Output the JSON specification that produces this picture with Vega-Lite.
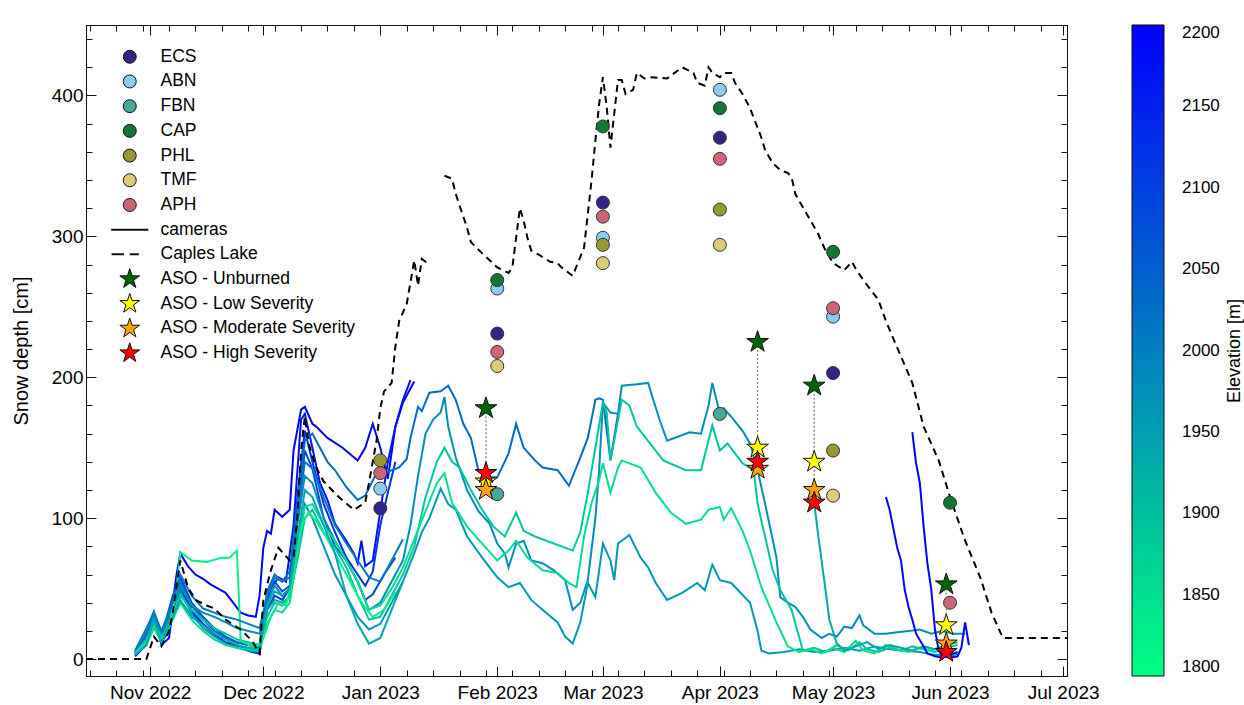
{
"$schema": "https://vega.github.io/schema/vega-lite/v6.json",
"autosize": {"type": "none"},
"width": 981, "height": 651,
"padding": {"left": 86, "top": 25, "right": 177, "bottom": 29},
"config": {
 "font": "Liberation Sans",
 "view": {"stroke": "#111", "strokeWidth": 1},
 "axis": {"domainColor": "#111", "tickColor": "#111", "labelColor": "black", "titleColor": "black", "grid": false, "domainWidth": 1, "tickWidth": 1, "labelFont": "Liberation Sans", "titleFont": "Liberation Sans"},
 "legend": {"labelFont": "Liberation Sans", "titleFont": "Liberation Sans", "labelColor": "black", "titleColor": "black"}
},
"datasets": {
 "cams": [
{"c":"K1","e":2195,"d":"2022-10-28","v":2},{"c":"K1","e":2195,"d":"2022-10-31","v":10},{"c":"K1","e":2195,"d":"2022-11-02","v":28},{"c":"K1","e":2195,"d":"2022-11-04","v":12},{"c":"K1","e":2195,"d":"2022-11-06","v":20},{"c":"K1","e":2195,"d":"2022-11-08","v":60},{"c":"K1","e":2195,"d":"2022-11-09","v":75},{"c":"K1","e":2195,"d":"2022-11-11","v":66},{"c":"K1","e":2195,"d":"2022-11-13","v":60},{"c":"K1","e":2195,"d":"2022-11-15","v":57},{"c":"K1","e":2195,"d":"2022-11-17","v":53},{"c":"K1","e":2195,"d":"2022-11-19","v":50},{"c":"K1","e":2195,"d":"2022-11-21","v":47},{"c":"K1","e":2195,"d":"2022-11-23","v":40},{"c":"K1","e":2195,"d":"2022-11-25","v":33},{"c":"K1","e":2195,"d":"2022-11-27","v":31},{"c":"K1","e":2195,"d":"2022-11-29","v":30},{"c":"K1","e":2195,"d":"2022-11-30","v":45},{"c":"K1","e":2195,"d":"2022-12-01","v":79},{"c":"K1","e":2195,"d":"2022-12-02","v":91},{"c":"K1","e":2195,"d":"2022-12-03","v":89},{"c":"K1","e":2195,"d":"2022-12-04","v":106},{"c":"K1","e":2195,"d":"2022-12-06","v":101},{"c":"K1","e":2195,"d":"2022-12-08","v":106},{"c":"K1","e":2195,"d":"2022-12-09","v":148},{"c":"K1","e":2195,"d":"2022-12-11","v":177},{"c":"K1","e":2195,"d":"2022-12-12","v":179},{"c":"K1","e":2195,"d":"2022-12-14","v":167},{"c":"K1","e":2195,"d":"2022-12-15","v":165},{"c":"K1","e":2195,"d":"2022-12-18","v":157},{"c":"K1","e":2195,"d":"2022-12-22","v":150},{"c":"K1","e":2195,"d":"2022-12-26","v":141},{"c":"K1","e":2195,"d":"2022-12-28","v":150},{"c":"K1","e":2195,"d":"2022-12-30","v":167},{"c":"K1","e":2195,"d":"2023-01-01","v":150},{"c":"K1","e":2195,"d":"2023-01-03","v":128},{"c":"K1","e":2195,"d":"2023-01-05","v":165},{"c":"K1","e":2195,"d":"2023-01-07","v":182},{"c":"K1","e":2195,"d":"2023-01-10","v":197},
{"c":"K2","e":2170,"d":"2022-10-28","v":3},{"c":"K2","e":2170,"d":"2022-10-31","v":12},{"c":"K2","e":2170,"d":"2022-11-02","v":30},{"c":"K2","e":2170,"d":"2022-11-04","v":10},{"c":"K2","e":2170,"d":"2022-11-06","v":15},{"c":"K2","e":2170,"d":"2022-11-08","v":55},{"c":"K2","e":2170,"d":"2022-11-10","v":45},{"c":"K2","e":2170,"d":"2022-11-13","v":30},{"c":"K2","e":2170,"d":"2022-11-16","v":22},{"c":"K2","e":2170,"d":"2022-11-19","v":15},{"c":"K2","e":2170,"d":"2022-11-22","v":10},{"c":"K2","e":2170,"d":"2022-11-25","v":8},{"c":"K2","e":2170,"d":"2022-11-28","v":5},{"c":"K2","e":2170,"d":"2022-11-30","v":4},{"c":"K2","e":2170,"d":"2022-12-01","v":30},{"c":"K2","e":2170,"d":"2022-12-03","v":50},{"c":"K2","e":2170,"d":"2022-12-05","v":58},{"c":"K2","e":2170,"d":"2022-12-07","v":55},{"c":"K2","e":2170,"d":"2022-12-09","v":95},{"c":"K2","e":2170,"d":"2022-12-11","v":170},{"c":"K2","e":2170,"d":"2022-12-12","v":174},{"c":"K2","e":2170,"d":"2022-12-14","v":150},{"c":"K2","e":2170,"d":"2022-12-16","v":125},{"c":"K2","e":2170,"d":"2022-12-18","v":113},{"c":"K2","e":2170,"d":"2022-12-20","v":96},{"c":"K2","e":2170,"d":"2022-12-23","v":84},{"c":"K2","e":2170,"d":"2022-12-25","v":75},{"c":"K2","e":2170,"d":"2022-12-26","v":68},{"c":"K2","e":2170,"d":"2022-12-27","v":84},{"c":"K2","e":2170,"d":"2022-12-28","v":66},{"c":"K2","e":2170,"d":"2022-12-30","v":70},{"c":"K2","e":2170,"d":"2023-01-01","v":105},{"c":"K2","e":2170,"d":"2023-01-03","v":140},{"c":"K2","e":2170,"d":"2023-01-05","v":165},{"c":"K2","e":2170,"d":"2023-01-07","v":184},{"c":"K2","e":2170,"d":"2023-01-09","v":198},
{"c":"K3","e":2120,"d":"2022-10-28","v":4},{"c":"K3","e":2120,"d":"2022-10-31","v":15},{"c":"K3","e":2120,"d":"2022-11-02","v":25},{"c":"K3","e":2120,"d":"2022-11-04","v":14},{"c":"K3","e":2120,"d":"2022-11-07","v":40},{"c":"K3","e":2120,"d":"2022-11-09","v":50},{"c":"K3","e":2120,"d":"2022-11-12","v":35},{"c":"K3","e":2120,"d":"2022-11-15","v":25},{"c":"K3","e":2120,"d":"2022-11-18","v":18},{"c":"K3","e":2120,"d":"2022-11-21","v":12},{"c":"K3","e":2120,"d":"2022-11-24","v":10},{"c":"K3","e":2120,"d":"2022-11-27","v":6},{"c":"K3","e":2120,"d":"2022-11-30","v":4},{"c":"K3","e":2120,"d":"2022-12-02","v":35},{"c":"K3","e":2120,"d":"2022-12-04","v":45},{"c":"K3","e":2120,"d":"2022-12-06","v":42},{"c":"K3","e":2120,"d":"2022-12-08","v":50},{"c":"K3","e":2120,"d":"2022-12-10","v":115},{"c":"K3","e":2120,"d":"2022-12-12","v":162},{"c":"K3","e":2120,"d":"2022-12-14","v":140},{"c":"K3","e":2120,"d":"2022-12-17","v":110},{"c":"K3","e":2120,"d":"2022-12-20","v":90},{"c":"K3","e":2120,"d":"2022-12-23","v":72},{"c":"K3","e":2120,"d":"2022-12-26","v":60},{"c":"K3","e":2120,"d":"2022-12-28","v":52},{"c":"K3","e":2120,"d":"2022-12-30","v":62},{"c":"K3","e":2120,"d":"2023-01-01","v":95},{"c":"K3","e":2120,"d":"2023-01-03","v":118},{"c":"K3","e":2120,"d":"2023-01-05","v":140},
{"c":"K4","e":2080,"d":"2022-10-28","v":5},{"c":"K4","e":2080,"d":"2022-10-31","v":18},{"c":"K4","e":2080,"d":"2022-11-02","v":32},{"c":"K4","e":2080,"d":"2022-11-04","v":16},{"c":"K4","e":2080,"d":"2022-11-07","v":45},{"c":"K4","e":2080,"d":"2022-11-09","v":58},{"c":"K4","e":2080,"d":"2022-11-12","v":40},{"c":"K4","e":2080,"d":"2022-11-15","v":30},{"c":"K4","e":2080,"d":"2022-11-18","v":22},{"c":"K4","e":2080,"d":"2022-11-21","v":16},{"c":"K4","e":2080,"d":"2022-11-24","v":12},{"c":"K4","e":2080,"d":"2022-11-27","v":10},{"c":"K4","e":2080,"d":"2022-11-30","v":8},{"c":"K4","e":2080,"d":"2022-12-02","v":45},{"c":"K4","e":2080,"d":"2022-12-04","v":55},{"c":"K4","e":2080,"d":"2022-12-06","v":48},{"c":"K4","e":2080,"d":"2022-12-08","v":52},{"c":"K4","e":2080,"d":"2022-12-10","v":100},{"c":"K4","e":2080,"d":"2022-12-12","v":148},{"c":"K4","e":2080,"d":"2022-12-14","v":135},{"c":"K4","e":2080,"d":"2022-12-17","v":100},{"c":"K4","e":2080,"d":"2022-12-20","v":80},{"c":"K4","e":2080,"d":"2022-12-23","v":70},{"c":"K4","e":2080,"d":"2022-12-26","v":55},{"c":"K4","e":2080,"d":"2022-12-28","v":42},{"c":"K4","e":2080,"d":"2022-12-30","v":46},{"c":"K4","e":2080,"d":"2023-01-02","v":60},{"c":"K4","e":2080,"d":"2023-01-05","v":72},
{"c":"K5","e":2030,"d":"2022-10-28","v":4},{"c":"K5","e":2030,"d":"2022-10-31","v":14},{"c":"K5","e":2030,"d":"2022-11-02","v":28},{"c":"K5","e":2030,"d":"2022-11-04","v":15},{"c":"K5","e":2030,"d":"2022-11-07","v":35},{"c":"K5","e":2030,"d":"2022-11-09","v":55},{"c":"K5","e":2030,"d":"2022-11-12","v":38},{"c":"K5","e":2030,"d":"2022-11-15","v":28},{"c":"K5","e":2030,"d":"2022-11-18","v":20},{"c":"K5","e":2030,"d":"2022-11-21","v":15},{"c":"K5","e":2030,"d":"2022-11-24","v":12},{"c":"K5","e":2030,"d":"2022-11-27","v":10},{"c":"K5","e":2030,"d":"2022-11-30","v":9},{"c":"K5","e":2030,"d":"2022-12-02","v":48},{"c":"K5","e":2030,"d":"2022-12-04","v":60},{"c":"K5","e":2030,"d":"2022-12-06","v":55},{"c":"K5","e":2030,"d":"2022-12-08","v":62},{"c":"K5","e":2030,"d":"2022-12-10","v":110},{"c":"K5","e":2030,"d":"2022-12-12","v":155},{"c":"K5","e":2030,"d":"2022-12-14","v":160},{"c":"K5","e":2030,"d":"2022-12-16","v":150},{"c":"K5","e":2030,"d":"2022-12-18","v":140},{"c":"K5","e":2030,"d":"2022-12-20","v":134},{"c":"K5","e":2030,"d":"2022-12-23","v":122},{"c":"K5","e":2030,"d":"2022-12-26","v":113},{"c":"K5","e":2030,"d":"2022-12-28","v":116},{"c":"K5","e":2030,"d":"2022-12-31","v":132},{"c":"K5","e":2030,"d":"2023-01-03","v":133},{"c":"K5","e":2030,"d":"2023-01-06","v":136},{"c":"K5","e":2030,"d":"2023-01-08","v":142},{"c":"K5","e":2030,"d":"2023-01-09","v":157},{"c":"K5","e":2030,"d":"2023-01-11","v":179},{"c":"K5","e":2030,"d":"2023-01-12","v":176},{"c":"K5","e":2030,"d":"2023-01-14","v":189},{"c":"K5","e":2030,"d":"2023-01-17","v":190},{"c":"K5","e":2030,"d":"2023-01-19","v":194},{"c":"K5","e":2030,"d":"2023-01-21","v":184},{"c":"K5","e":2030,"d":"2023-01-23","v":167},{"c":"K5","e":2030,"d":"2023-01-25","v":157},{"c":"K5","e":2030,"d":"2023-01-27","v":134},{"c":"K5","e":2030,"d":"2023-01-29","v":129},{"c":"K5","e":2030,"d":"2023-02-01","v":129},{"c":"K5","e":2030,"d":"2023-02-04","v":146},{"c":"K5","e":2030,"d":"2023-02-06","v":167},{"c":"K5","e":2030,"d":"2023-02-08","v":150},{"c":"K5","e":2030,"d":"2023-02-11","v":141},{"c":"K5","e":2030,"d":"2023-02-13","v":136},{"c":"K5","e":2030,"d":"2023-02-17","v":134},{"c":"K5","e":2030,"d":"2023-02-20","v":123},{"c":"K5","e":2030,"d":"2023-02-23","v":143},{"c":"K5","e":2030,"d":"2023-02-25","v":157},{"c":"K5","e":2030,"d":"2023-02-27","v":184},{"c":"K5","e":2030,"d":"2023-02-28","v":185},{"c":"K5","e":2030,"d":"2023-03-01","v":184},{"c":"K5","e":2030,"d":"2023-03-03","v":141},{"c":"K5","e":2030,"d":"2023-03-05","v":174},
{"c":"K6","e":1975,"d":"2022-10-28","v":5},{"c":"K6","e":1975,"d":"2022-10-31","v":20},{"c":"K6","e":1975,"d":"2022-11-02","v":34},{"c":"K6","e":1975,"d":"2022-11-04","v":18},{"c":"K6","e":1975,"d":"2022-11-07","v":40},{"c":"K6","e":1975,"d":"2022-11-09","v":52},{"c":"K6","e":1975,"d":"2022-11-12","v":38},{"c":"K6","e":1975,"d":"2022-11-15","v":33},{"c":"K6","e":1975,"d":"2022-11-18","v":30},{"c":"K6","e":1975,"d":"2022-11-21","v":26},{"c":"K6","e":1975,"d":"2022-11-24","v":22},{"c":"K6","e":1975,"d":"2022-11-27","v":20},{"c":"K6","e":1975,"d":"2022-11-30","v":18},{"c":"K6","e":1975,"d":"2022-12-02","v":40},{"c":"K6","e":1975,"d":"2022-12-04","v":52},{"c":"K6","e":1975,"d":"2022-12-06","v":45},{"c":"K6","e":1975,"d":"2022-12-08","v":50},{"c":"K6","e":1975,"d":"2022-12-10","v":95},{"c":"K6","e":1975,"d":"2022-12-12","v":130},{"c":"K6","e":1975,"d":"2022-12-14","v":125},{"c":"K6","e":1975,"d":"2022-12-17","v":100},{"c":"K6","e":1975,"d":"2022-12-20","v":84},{"c":"K6","e":1975,"d":"2022-12-23","v":70},{"c":"K6","e":1975,"d":"2022-12-26","v":55},{"c":"K6","e":1975,"d":"2022-12-29","v":35},{"c":"K6","e":1975,"d":"2023-01-01","v":40},{"c":"K6","e":1975,"d":"2023-01-04","v":55},{"c":"K6","e":1975,"d":"2023-01-07","v":70},{"c":"K6","e":1975,"d":"2023-01-09","v":95},{"c":"K6","e":1975,"d":"2023-01-11","v":130},{"c":"K6","e":1975,"d":"2023-01-13","v":160},{"c":"K6","e":1975,"d":"2023-01-15","v":170},{"c":"K6","e":1975,"d":"2023-01-17","v":175},{"c":"K6","e":1975,"d":"2023-01-18","v":186},{"c":"K6","e":1975,"d":"2023-01-19","v":165},{"c":"K6","e":1975,"d":"2023-01-21","v":143},{"c":"K6","e":1975,"d":"2023-01-24","v":120},{"c":"K6","e":1975,"d":"2023-01-27","v":105},{"c":"K6","e":1975,"d":"2023-01-30","v":96},{"c":"K6","e":1975,"d":"2023-02-01","v":82},{"c":"K6","e":1975,"d":"2023-02-03","v":75},{"c":"K6","e":1975,"d":"2023-02-04","v":65},{"c":"K6","e":1975,"d":"2023-02-06","v":82},{"c":"K6","e":1975,"d":"2023-02-08","v":84},{"c":"K6","e":1975,"d":"2023-02-10","v":70},{"c":"K6","e":1975,"d":"2023-02-13","v":68},{"c":"K6","e":1975,"d":"2023-02-16","v":63},{"c":"K6","e":1975,"d":"2023-02-19","v":56},{"c":"K6","e":1975,"d":"2023-02-21","v":35},{"c":"K6","e":1975,"d":"2023-02-23","v":40},{"c":"K6","e":1975,"d":"2023-02-25","v":56},{"c":"K6","e":1975,"d":"2023-02-27","v":100},{"c":"K6","e":1975,"d":"2023-02-28","v":134},{"c":"K6","e":1975,"d":"2023-03-01","v":182},{"c":"K6","e":1975,"d":"2023-03-03","v":175},{"c":"K6","e":1975,"d":"2023-03-05","v":174},{"c":"K6","e":1975,"d":"2023-03-06","v":194},{"c":"K6","e":1975,"d":"2023-03-10","v":195},{"c":"K6","e":1975,"d":"2023-03-13","v":196},{"c":"K6","e":1975,"d":"2023-03-14","v":187},{"c":"K6","e":1975,"d":"2023-03-16","v":170},{"c":"K6","e":1975,"d":"2023-03-18","v":155},{"c":"K6","e":1975,"d":"2023-03-21","v":158},{"c":"K6","e":1975,"d":"2023-03-24","v":161},{"c":"K6","e":1975,"d":"2023-03-27","v":160},{"c":"K6","e":1975,"d":"2023-03-29","v":180},{"c":"K6","e":1975,"d":"2023-03-30","v":196},{"c":"K6","e":1975,"d":"2023-04-01","v":174},{"c":"K6","e":1975,"d":"2023-04-02","v":178},{"c":"K6","e":1975,"d":"2023-04-04","v":172},{"c":"K6","e":1975,"d":"2023-04-07","v":162},{"c":"K6","e":1975,"d":"2023-04-09","v":153},{"c":"K6","e":1975,"d":"2023-04-11","v":134},{"c":"K6","e":1975,"d":"2023-04-13","v":110},{"c":"K6","e":1975,"d":"2023-04-16","v":72},{"c":"K6","e":1975,"d":"2023-04-17","v":44},{"c":"K6","e":1975,"d":"2023-04-19","v":40},{"c":"K6","e":1975,"d":"2023-04-21","v":37},{"c":"K6","e":1975,"d":"2023-04-23","v":30},{"c":"K6","e":1975,"d":"2023-04-25","v":21},{"c":"K6","e":1975,"d":"2023-04-28","v":15},{"c":"K6","e":1975,"d":"2023-04-30","v":18},{"c":"K6","e":1975,"d":"2023-05-02","v":16},{"c":"K6","e":1975,"d":"2023-05-04","v":23},{"c":"K6","e":1975,"d":"2023-05-06","v":22},{"c":"K6","e":1975,"d":"2023-05-08","v":31},{"c":"K6","e":1975,"d":"2023-05-09","v":24},{"c":"K6","e":1975,"d":"2023-05-12","v":18},{"c":"K6","e":1975,"d":"2023-05-15","v":18},{"c":"K6","e":1975,"d":"2023-05-18","v":19},{"c":"K6","e":1975,"d":"2023-05-21","v":20},{"c":"K6","e":1975,"d":"2023-05-24","v":21},{"c":"K6","e":1975,"d":"2023-05-27","v":18},{"c":"K6","e":1975,"d":"2023-05-30","v":20},{"c":"K6","e":1975,"d":"2023-06-02","v":18},{"c":"K6","e":1975,"d":"2023-06-05","v":18},
{"c":"K7","e":1960,"d":"2022-10-28","v":3},{"c":"K7","e":1960,"d":"2022-10-31","v":12},{"c":"K7","e":1960,"d":"2022-11-02","v":30},{"c":"K7","e":1960,"d":"2022-11-04","v":14},{"c":"K7","e":1960,"d":"2022-11-07","v":35},{"c":"K7","e":1960,"d":"2022-11-09","v":48},{"c":"K7","e":1960,"d":"2022-11-12","v":32},{"c":"K7","e":1960,"d":"2022-11-15","v":22},{"c":"K7","e":1960,"d":"2022-11-18","v":16},{"c":"K7","e":1960,"d":"2022-11-21","v":11},{"c":"K7","e":1960,"d":"2022-11-24","v":8},{"c":"K7","e":1960,"d":"2022-11-27","v":6},{"c":"K7","e":1960,"d":"2022-11-30","v":5},{"c":"K7","e":1960,"d":"2022-12-02","v":35},{"c":"K7","e":1960,"d":"2022-12-04","v":42},{"c":"K7","e":1960,"d":"2022-12-06","v":40},{"c":"K7","e":1960,"d":"2022-12-08","v":44},{"c":"K7","e":1960,"d":"2022-12-10","v":80},{"c":"K7","e":1960,"d":"2022-12-12","v":110},{"c":"K7","e":1960,"d":"2022-12-14","v":100},{"c":"K7","e":1960,"d":"2022-12-17","v":80},{"c":"K7","e":1960,"d":"2022-12-20","v":60},{"c":"K7","e":1960,"d":"2022-12-23","v":45},{"c":"K7","e":1960,"d":"2022-12-26","v":30},{"c":"K7","e":1960,"d":"2022-12-29","v":21},{"c":"K7","e":1960,"d":"2023-01-01","v":25},{"c":"K7","e":1960,"d":"2023-01-04","v":40},{"c":"K7","e":1960,"d":"2023-01-07","v":55},{"c":"K7","e":1960,"d":"2023-01-10","v":75},{"c":"K7","e":1960,"d":"2023-01-12","v":90},{"c":"K7","e":1960,"d":"2023-01-14","v":100},{"c":"K7","e":1960,"d":"2023-01-17","v":121},{"c":"K7","e":1960,"d":"2023-01-19","v":110},{"c":"K7","e":1960,"d":"2023-01-21","v":106},{"c":"K7","e":1960,"d":"2023-01-24","v":87},{"c":"K7","e":1960,"d":"2023-01-28","v":72},{"c":"K7","e":1960,"d":"2023-02-01","v":58},{"c":"K7","e":1960,"d":"2023-02-04","v":51},{"c":"K7","e":1960,"d":"2023-02-07","v":54},{"c":"K7","e":1960,"d":"2023-02-10","v":42},{"c":"K7","e":1960,"d":"2023-02-13","v":35},{"c":"K7","e":1960,"d":"2023-02-17","v":26},{"c":"K7","e":1960,"d":"2023-02-19","v":16},{"c":"K7","e":1960,"d":"2023-02-21","v":11},{"c":"K7","e":1960,"d":"2023-02-23","v":26},{"c":"K7","e":1960,"d":"2023-02-25","v":54},{"c":"K7","e":1960,"d":"2023-02-27","v":44},{"c":"K7","e":1960,"d":"2023-03-01","v":82},{"c":"K7","e":1960,"d":"2023-03-03","v":70},{"c":"K7","e":1960,"d":"2023-03-04","v":56},{"c":"K7","e":1960,"d":"2023-03-05","v":82},{"c":"K7","e":1960,"d":"2023-03-08","v":88},{"c":"K7","e":1960,"d":"2023-03-11","v":72},{"c":"K7","e":1960,"d":"2023-03-13","v":65},{"c":"K7","e":1960,"d":"2023-03-15","v":54},{"c":"K7","e":1960,"d":"2023-03-18","v":42},{"c":"K7","e":1960,"d":"2023-03-22","v":47},{"c":"K7","e":1960,"d":"2023-03-26","v":54},{"c":"K7","e":1960,"d":"2023-03-28","v":49},{"c":"K7","e":1960,"d":"2023-03-30","v":67},{"c":"K7","e":1960,"d":"2023-04-01","v":56},{"c":"K7","e":1960,"d":"2023-04-04","v":54},{"c":"K7","e":1960,"d":"2023-04-09","v":40},{"c":"K7","e":1960,"d":"2023-04-11","v":20},{"c":"K7","e":1960,"d":"2023-04-12","v":6},{"c":"K7","e":1960,"d":"2023-04-14","v":4},{"c":"K7","e":1960,"d":"2023-04-18","v":5},{"c":"K7","e":1960,"d":"2023-04-22","v":7},{"c":"K7","e":1960,"d":"2023-04-26","v":5},{"c":"K7","e":1960,"d":"2023-04-30","v":6},{"c":"K7","e":1960,"d":"2023-05-04","v":8},{"c":"K7","e":1960,"d":"2023-05-08","v":6},{"c":"K7","e":1960,"d":"2023-05-12","v":9},{"c":"K7","e":1960,"d":"2023-05-16","v":7},{"c":"K7","e":1960,"d":"2023-05-20","v":6},{"c":"K7","e":1960,"d":"2023-05-24","v":5},{"c":"K7","e":1960,"d":"2023-05-28","v":3},{"c":"K7","e":1960,"d":"2023-06-01","v":2},{"c":"K7","e":1960,"d":"2023-06-03","v":4},
{"c":"K8","e":1890,"d":"2022-10-28","v":4},{"c":"K8","e":1890,"d":"2022-10-31","v":14},{"c":"K8","e":1890,"d":"2022-11-02","v":26},{"c":"K8","e":1890,"d":"2022-11-04","v":15},{"c":"K8","e":1890,"d":"2022-11-07","v":30},{"c":"K8","e":1890,"d":"2022-11-09","v":45},{"c":"K8","e":1890,"d":"2022-11-12","v":35},{"c":"K8","e":1890,"d":"2022-11-15","v":28},{"c":"K8","e":1890,"d":"2022-11-18","v":22},{"c":"K8","e":1890,"d":"2022-11-21","v":18},{"c":"K8","e":1890,"d":"2022-11-24","v":14},{"c":"K8","e":1890,"d":"2022-11-27","v":12},{"c":"K8","e":1890,"d":"2022-11-30","v":10},{"c":"K8","e":1890,"d":"2022-12-02","v":30},{"c":"K8","e":1890,"d":"2022-12-04","v":40},{"c":"K8","e":1890,"d":"2022-12-06","v":38},{"c":"K8","e":1890,"d":"2022-12-08","v":45},{"c":"K8","e":1890,"d":"2022-12-10","v":70},{"c":"K8","e":1890,"d":"2022-12-12","v":100},{"c":"K8","e":1890,"d":"2022-12-14","v":106},{"c":"K8","e":1890,"d":"2022-12-17","v":90},{"c":"K8","e":1890,"d":"2022-12-20","v":79},{"c":"K8","e":1890,"d":"2022-12-23","v":65},{"c":"K8","e":1890,"d":"2022-12-26","v":45},{"c":"K8","e":1890,"d":"2022-12-29","v":28},{"c":"K8","e":1890,"d":"2023-01-01","v":30},{"c":"K8","e":1890,"d":"2023-01-04","v":45},{"c":"K8","e":1890,"d":"2023-01-07","v":60},{"c":"K8","e":1890,"d":"2023-01-10","v":80},{"c":"K8","e":1890,"d":"2023-01-13","v":115},{"c":"K8","e":1890,"d":"2023-01-16","v":140},{"c":"K8","e":1890,"d":"2023-01-18","v":150},{"c":"K8","e":1890,"d":"2023-01-20","v":140},{"c":"K8","e":1890,"d":"2023-01-22","v":136},{"c":"K8","e":1890,"d":"2023-01-25","v":120},{"c":"K8","e":1890,"d":"2023-01-28","v":106},{"c":"K8","e":1890,"d":"2023-01-31","v":94},{"c":"K8","e":1890,"d":"2023-02-03","v":87},{"c":"K8","e":1890,"d":"2023-02-06","v":104},{"c":"K8","e":1890,"d":"2023-02-08","v":91},{"c":"K8","e":1890,"d":"2023-02-11","v":87},{"c":"K8","e":1890,"d":"2023-02-16","v":82},{"c":"K8","e":1890,"d":"2023-02-21","v":77},{"c":"K8","e":1890,"d":"2023-02-23","v":90},{"c":"K8","e":1890,"d":"2023-02-25","v":118},{"c":"K8","e":1890,"d":"2023-02-27","v":150},{"c":"K8","e":1890,"d":"2023-03-01","v":182},{"c":"K8","e":1890,"d":"2023-03-02","v":175},{"c":"K8","e":1890,"d":"2023-03-03","v":141},{"c":"K8","e":1890,"d":"2023-03-06","v":184},{"c":"K8","e":1890,"d":"2023-03-08","v":180},{"c":"K8","e":1890,"d":"2023-03-10","v":165},{"c":"K8","e":1890,"d":"2023-03-17","v":141},{"c":"K8","e":1890,"d":"2023-03-23","v":134},{"c":"K8","e":1890,"d":"2023-03-27","v":134},{"c":"K8","e":1890,"d":"2023-03-30","v":166},{"c":"K8","e":1890,"d":"2023-04-01","v":148},{"c":"K8","e":1890,"d":"2023-04-03","v":153},{"c":"K8","e":1890,"d":"2023-04-07","v":139},{"c":"K8","e":1890,"d":"2023-04-10","v":134},{"c":"K8","e":1890,"d":"2023-04-11","v":110},{"c":"K8","e":1890,"d":"2023-04-15","v":63},{"c":"K8","e":1890,"d":"2023-04-17","v":49},{"c":"K8","e":1890,"d":"2023-04-20","v":35},{"c":"K8","e":1890,"d":"2023-04-23","v":6},{"c":"K8","e":1890,"d":"2023-04-26","v":8},{"c":"K8","e":1890,"d":"2023-04-29","v":5},{"c":"K8","e":1890,"d":"2023-05-02","v":10},{"c":"K8","e":1890,"d":"2023-05-05","v":6},{"c":"K8","e":1890,"d":"2023-05-08","v":12},{"c":"K8","e":1890,"d":"2023-05-10","v":7},{"c":"K8","e":1890,"d":"2023-05-13","v":5},{"c":"K8","e":1890,"d":"2023-05-16","v":8},{"c":"K8","e":1890,"d":"2023-05-19","v":6},{"c":"K8","e":1890,"d":"2023-05-22","v":9},{"c":"K8","e":1890,"d":"2023-05-25","v":7},{"c":"K8","e":1890,"d":"2023-05-28","v":5},{"c":"K8","e":1890,"d":"2023-05-31","v":8},{"c":"K8","e":1890,"d":"2023-06-03","v":10},
{"c":"K9","e":1850,"d":"2022-10-28","v":3},{"c":"K9","e":1850,"d":"2022-10-31","v":10},{"c":"K9","e":1850,"d":"2022-11-02","v":22},{"c":"K9","e":1850,"d":"2022-11-04","v":12},{"c":"K9","e":1850,"d":"2022-11-07","v":28},{"c":"K9","e":1850,"d":"2022-11-09","v":40},{"c":"K9","e":1850,"d":"2022-11-12","v":28},{"c":"K9","e":1850,"d":"2022-11-15","v":20},{"c":"K9","e":1850,"d":"2022-11-18","v":14},{"c":"K9","e":1850,"d":"2022-11-21","v":10},{"c":"K9","e":1850,"d":"2022-11-24","v":8},{"c":"K9","e":1850,"d":"2022-11-27","v":7},{"c":"K9","e":1850,"d":"2022-11-30","v":6},{"c":"K9","e":1850,"d":"2022-12-02","v":25},{"c":"K9","e":1850,"d":"2022-12-04","v":35},{"c":"K9","e":1850,"d":"2022-12-06","v":33},{"c":"K9","e":1850,"d":"2022-12-08","v":40},{"c":"K9","e":1850,"d":"2022-12-10","v":75},{"c":"K9","e":1850,"d":"2022-12-12","v":108},{"c":"K9","e":1850,"d":"2022-12-14","v":110},{"c":"K9","e":1850,"d":"2022-12-17","v":95},{"c":"K9","e":1850,"d":"2022-12-20","v":84},{"c":"K9","e":1850,"d":"2022-12-23","v":70},{"c":"K9","e":1850,"d":"2022-12-26","v":55},{"c":"K9","e":1850,"d":"2022-12-29","v":35},{"c":"K9","e":1850,"d":"2023-01-01","v":38},{"c":"K9","e":1850,"d":"2023-01-04","v":50},{"c":"K9","e":1850,"d":"2023-01-07","v":65},{"c":"K9","e":1850,"d":"2023-01-10","v":85},{"c":"K9","e":1850,"d":"2023-01-13","v":105},{"c":"K9","e":1850,"d":"2023-01-16","v":125},{"c":"K9","e":1850,"d":"2023-01-18","v":132},{"c":"K9","e":1850,"d":"2023-01-20","v":111},{"c":"K9","e":1850,"d":"2023-01-24","v":94},{"c":"K9","e":1850,"d":"2023-01-28","v":82},{"c":"K9","e":1850,"d":"2023-02-01","v":70},{"c":"K9","e":1850,"d":"2023-02-04","v":77},{"c":"K9","e":1850,"d":"2023-02-06","v":84},{"c":"K9","e":1850,"d":"2023-02-09","v":72},{"c":"K9","e":1850,"d":"2023-02-13","v":63},{"c":"K9","e":1850,"d":"2023-02-17","v":61},{"c":"K9","e":1850,"d":"2023-02-20","v":54},{"c":"K9","e":1850,"d":"2023-02-22","v":51},{"c":"K9","e":1850,"d":"2023-02-24","v":87},{"c":"K9","e":1850,"d":"2023-02-26","v":111},{"c":"K9","e":1850,"d":"2023-02-28","v":127},{"c":"K9","e":1850,"d":"2023-03-01","v":139},{"c":"K9","e":1850,"d":"2023-03-03","v":118},{"c":"K9","e":1850,"d":"2023-03-05","v":136},{"c":"K9","e":1850,"d":"2023-03-06","v":141},{"c":"K9","e":1850,"d":"2023-03-11","v":136},{"c":"K9","e":1850,"d":"2023-03-15","v":118},{"c":"K9","e":1850,"d":"2023-03-19","v":104},{"c":"K9","e":1850,"d":"2023-03-23","v":96},{"c":"K9","e":1850,"d":"2023-03-27","v":99},{"c":"K9","e":1850,"d":"2023-03-29","v":106},{"c":"K9","e":1850,"d":"2023-04-01","v":108},{"c":"K9","e":1850,"d":"2023-04-02","v":99},{"c":"K9","e":1850,"d":"2023-04-04","v":107},{"c":"K9","e":1850,"d":"2023-04-07","v":91},{"c":"K9","e":1850,"d":"2023-04-09","v":77},{"c":"K9","e":1850,"d":"2023-04-12","v":51},{"c":"K9","e":1850,"d":"2023-04-16","v":26},{"c":"K9","e":1850,"d":"2023-04-19","v":9},{"c":"K9","e":1850,"d":"2023-04-22","v":5},{"c":"K9","e":1850,"d":"2023-04-25","v":7},{"c":"K9","e":1850,"d":"2023-04-28","v":4},{"c":"K9","e":1850,"d":"2023-05-01","v":8},{"c":"K9","e":1850,"d":"2023-05-04","v":5},{"c":"K9","e":1850,"d":"2023-05-07","v":13},{"c":"K9","e":1850,"d":"2023-05-09","v":6},{"c":"K9","e":1850,"d":"2023-05-12","v":4},{"c":"K9","e":1850,"d":"2023-05-15","v":10},{"c":"K9","e":1850,"d":"2023-05-18","v":7},{"c":"K9","e":1850,"d":"2023-05-21","v":5},{"c":"K9","e":1850,"d":"2023-05-24","v":8},{"c":"K9","e":1850,"d":"2023-05-27","v":6},{"c":"K9","e":1850,"d":"2023-05-30","v":9},{"c":"K9","e":1850,"d":"2023-06-02","v":12},
{"c":"K10","e":1820,"d":"2022-10-28","v":4},{"c":"K10","e":1820,"d":"2022-10-31","v":12},{"c":"K10","e":1820,"d":"2022-11-02","v":25},{"c":"K10","e":1820,"d":"2022-11-04","v":14},{"c":"K10","e":1820,"d":"2022-11-06","v":22},{"c":"K10","e":1820,"d":"2022-11-08","v":50},{"c":"K10","e":1820,"d":"2022-11-09","v":76},{"c":"K10","e":1820,"d":"2022-11-12","v":70},{"c":"K10","e":1820,"d":"2022-11-16","v":69},{"c":"K10","e":1820,"d":"2022-11-20","v":72},{"c":"K10","e":1820,"d":"2022-11-22","v":72},{"c":"K10","e":1820,"d":"2022-11-24","v":77},{"c":"K10","e":1820,"d":"2022-11-25","v":13},{"c":"K10","e":1820,"d":"2022-11-29","v":8},{"c":"K10","e":1820,"d":"2022-12-01","v":15},{"c":"K10","e":1820,"d":"2022-12-03","v":30},{"c":"K10","e":1820,"d":"2022-12-05","v":40},{"c":"K10","e":1820,"d":"2022-12-07","v":38},{"c":"K10","e":1820,"d":"2022-12-09","v":60},{"c":"K10","e":1820,"d":"2022-12-11","v":95},{"c":"K10","e":1820,"d":"2022-12-13","v":104},{"c":"K10","e":1820,"d":"2022-12-15","v":98},{"c":"K10","e":1820,"d":"2022-12-18","v":85},{"c":"K10","e":1820,"d":"2022-12-21","v":70},{"c":"K10","e":1820,"d":"2022-12-24","v":55},{"c":"K10","e":1820,"d":"2022-12-27","v":40},{"c":"K10","e":1820,"d":"2022-12-30","v":30},{"c":"K10","e":1820,"d":"2023-01-02","v":35},{"c":"K10","e":1820,"d":"2023-01-05","v":48},
{"c":"K11","e":2010,"d":"2022-10-28","v":6},{"c":"K11","e":2010,"d":"2022-10-31","v":22},{"c":"K11","e":2010,"d":"2022-11-02","v":33},{"c":"K11","e":2010,"d":"2022-11-04","v":20},{"c":"K11","e":2010,"d":"2022-11-07","v":40},{"c":"K11","e":2010,"d":"2022-11-09","v":60},{"c":"K11","e":2010,"d":"2022-11-12","v":45},{"c":"K11","e":2010,"d":"2022-11-15","v":36},{"c":"K11","e":2010,"d":"2022-11-18","v":33},{"c":"K11","e":2010,"d":"2022-11-21","v":30},{"c":"K11","e":2010,"d":"2022-11-24","v":28},{"c":"K11","e":2010,"d":"2022-11-27","v":25},{"c":"K11","e":2010,"d":"2022-11-30","v":22},{"c":"K11","e":2010,"d":"2022-12-02","v":45},{"c":"K11","e":2010,"d":"2022-12-04","v":58},{"c":"K11","e":2010,"d":"2022-12-06","v":55},{"c":"K11","e":2010,"d":"2022-12-08","v":58},{"c":"K11","e":2010,"d":"2022-12-10","v":100},{"c":"K11","e":2010,"d":"2022-12-12","v":140},{"c":"K11","e":2010,"d":"2022-12-14","v":135},{"c":"K11","e":2010,"d":"2022-12-17","v":115},{"c":"K11","e":2010,"d":"2022-12-20","v":95},{"c":"K11","e":2010,"d":"2022-12-23","v":82},{"c":"K11","e":2010,"d":"2022-12-26","v":70},{"c":"K11","e":2010,"d":"2022-12-29","v":58},{"c":"K11","e":2010,"d":"2023-01-01","v":55},{"c":"K11","e":2010,"d":"2023-01-04","v":70},{"c":"K11","e":2010,"d":"2023-01-07","v":85},
{"c":"K12","e":1935,"d":"2022-10-28","v":3},{"c":"K12","e":1935,"d":"2022-10-31","v":10},{"c":"K12","e":1935,"d":"2022-11-02","v":28},{"c":"K12","e":1935,"d":"2022-11-04","v":12},{"c":"K12","e":1935,"d":"2022-11-07","v":30},{"c":"K12","e":1935,"d":"2022-11-09","v":42},{"c":"K12","e":1935,"d":"2022-11-12","v":30},{"c":"K12","e":1935,"d":"2022-11-15","v":24},{"c":"K12","e":1935,"d":"2022-11-18","v":18},{"c":"K12","e":1935,"d":"2022-11-21","v":14},{"c":"K12","e":1935,"d":"2022-11-24","v":10},{"c":"K12","e":1935,"d":"2022-11-27","v":8},{"c":"K12","e":1935,"d":"2022-11-30","v":7},{"c":"K12","e":1935,"d":"2022-12-02","v":38},{"c":"K12","e":1935,"d":"2022-12-04","v":48},{"c":"K12","e":1935,"d":"2022-12-06","v":45},{"c":"K12","e":1935,"d":"2022-12-08","v":50},{"c":"K12","e":1935,"d":"2022-12-10","v":85},{"c":"K12","e":1935,"d":"2022-12-12","v":120},{"c":"K12","e":1935,"d":"2022-12-14","v":115},{"c":"K12","e":1935,"d":"2022-12-17","v":95},{"c":"K12","e":1935,"d":"2022-12-20","v":75},{"c":"K12","e":1935,"d":"2022-12-23","v":45},{"c":"K12","e":1935,"d":"2022-12-26","v":25},{"c":"K12","e":1935,"d":"2022-12-29","v":11},{"c":"K12","e":1935,"d":"2023-01-01","v":15},{"c":"K12","e":1935,"d":"2023-01-04","v":35},{"c":"K12","e":1935,"d":"2023-01-07","v":55},
{"c":"K12b","e":1935,"d":"2023-04-26","v":111},{"c":"K12b","e":1935,"d":"2023-04-27","v":89},{"c":"K12b","e":1935,"d":"2023-04-29","v":49},{"c":"K12b","e":1935,"d":"2023-04-30","v":28},{"c":"K12b","e":1935,"d":"2023-05-02","v":11},{"c":"K12b","e":1935,"d":"2023-05-04","v":6},{"c":"K12b","e":1935,"d":"2023-05-07","v":9},{"c":"K12b","e":1935,"d":"2023-05-10","v":12},{"c":"K12b","e":1935,"d":"2023-05-13","v":7},{"c":"K12b","e":1935,"d":"2023-05-16","v":10},{"c":"K12b","e":1935,"d":"2023-05-19","v":8},{"c":"K12b","e":1935,"d":"2023-05-22","v":6},{"c":"K12b","e":1935,"d":"2023-05-25","v":9},{"c":"K12b","e":1935,"d":"2023-05-28","v":7},{"c":"K12b","e":1935,"d":"2023-05-31","v":10},{"c":"K12b","e":1935,"d":"2023-06-03","v":12},
{"c":"K13","e":2195,"d":"2023-05-22","v":161},{"c":"K13","e":2195,"d":"2023-05-23","v":139},{"c":"K13","e":2195,"d":"2023-05-24","v":125},{"c":"K13","e":2195,"d":"2023-05-25","v":94},{"c":"K13","e":2195,"d":"2023-05-26","v":68},{"c":"K13","e":2195,"d":"2023-05-27","v":50},{"c":"K13","e":2195,"d":"2023-05-28","v":21},{"c":"K13","e":2195,"d":"2023-05-29","v":6},{"c":"K13","e":2195,"d":"2023-05-30","v":2},{"c":"K13","e":2195,"d":"2023-06-01","v":1},{"c":"K13","e":2195,"d":"2023-06-03","v":2},{"c":"K13","e":2195,"d":"2023-06-04","v":8},{"c":"K13","e":2195,"d":"2023-06-05","v":26},{"c":"K13","e":2195,"d":"2023-06-06","v":10},
{"c":"K14","e":2185,"d":"2023-05-15","v":115},{"c":"K14","e":2185,"d":"2023-05-16","v":106},{"c":"K14","e":2185,"d":"2023-05-18","v":79},{"c":"K14","e":2185,"d":"2023-05-19","v":70},{"c":"K14","e":2185,"d":"2023-05-20","v":49},{"c":"K14","e":2185,"d":"2023-05-21","v":37},{"c":"K14","e":2185,"d":"2023-05-22","v":28},{"c":"K14","e":2185,"d":"2023-05-23","v":18},{"c":"K14","e":2185,"d":"2023-05-25","v":9},{"c":"K14","e":2185,"d":"2023-05-26","v":4},{"c":"K14","e":2185,"d":"2023-05-28","v":2},{"c":"K14","e":2185,"d":"2023-05-30","v":1},{"c":"K14","e":2185,"d":"2023-06-01","v":3},{"c":"K14","e":2185,"d":"2023-06-03","v":5}
 ],
 "caples": [
{"s":"A","d":"2022-10-15","v":0},{"s":"A","d":"2022-10-31","v":0},{"s":"A","d":"2022-11-02","v":16},{"s":"A","d":"2022-11-04","v":9},{"s":"A","d":"2022-11-06","v":20},{"s":"A","d":"2022-11-07","v":33},{"s":"A","d":"2022-11-09","v":70},{"s":"A","d":"2022-11-11","v":51},{"s":"A","d":"2022-11-13","v":42},{"s":"A","d":"2022-11-16","v":38},{"s":"A","d":"2022-11-18","v":36},{"s":"A","d":"2022-11-21","v":28},{"s":"A","d":"2022-11-25","v":21},{"s":"A","d":"2022-11-28","v":13},{"s":"A","d":"2022-11-30","v":4},{"s":"A","d":"2022-12-01","v":42},{"s":"A","d":"2022-12-03","v":63},{"s":"A","d":"2022-12-05","v":79},{"s":"A","d":"2022-12-08","v":70},{"s":"A","d":"2022-12-09","v":72},{"s":"A","d":"2022-12-10","v":100},{"s":"A","d":"2022-12-11","v":148},{"s":"A","d":"2022-12-12","v":172},{"s":"A","d":"2022-12-13","v":153},{"s":"A","d":"2022-12-15","v":136},{"s":"A","d":"2022-12-17","v":126},{"s":"A","d":"2022-12-21","v":115},{"s":"A","d":"2022-12-25","v":106},{"s":"A","d":"2022-12-28","v":111},{"s":"A","d":"2022-12-29","v":125},{"s":"A","d":"2022-12-31","v":155},{"s":"A","d":"2023-01-01","v":178},{"s":"A","d":"2023-01-02","v":190},{"s":"A","d":"2023-01-04","v":196},{"s":"A","d":"2023-01-05","v":222},{"s":"A","d":"2023-01-06","v":240},{"s":"A","d":"2023-01-08","v":252},{"s":"A","d":"2023-01-10","v":283},{"s":"A","d":"2023-01-11","v":265},{"s":"A","d":"2023-01-12","v":284},{"s":"A","d":"2023-01-14","v":280},
{"s":"B","d":"2023-01-18","v":343},{"s":"B","d":"2023-01-20","v":341},{"s":"B","d":"2023-01-21","v":330},{"s":"B","d":"2023-01-24","v":306},{"s":"B","d":"2023-01-25","v":296},{"s":"B","d":"2023-01-28","v":288},{"s":"B","d":"2023-02-01","v":278},{"s":"B","d":"2023-02-04","v":274},{"s":"B","d":"2023-02-05","v":278},{"s":"B","d":"2023-02-07","v":320},{"s":"B","d":"2023-02-08","v":311},{"s":"B","d":"2023-02-09","v":299},{"s":"B","d":"2023-02-10","v":290},{"s":"B","d":"2023-02-12","v":287},{"s":"B","d":"2023-02-15","v":282},{"s":"B","d":"2023-02-17","v":281},{"s":"B","d":"2023-02-18","v":278},{"s":"B","d":"2023-02-21","v":272},{"s":"B","d":"2023-02-24","v":292},{"s":"B","d":"2023-02-25","v":316},{"s":"B","d":"2023-02-26","v":340},{"s":"B","d":"2023-02-27","v":368},{"s":"B","d":"2023-02-28","v":394},{"s":"B","d":"2023-03-01","v":413},{"s":"B","d":"2023-03-02","v":392},{"s":"B","d":"2023-03-03","v":363},{"s":"B","d":"2023-03-04","v":387},{"s":"B","d":"2023-03-05","v":411},{"s":"B","d":"2023-03-06","v":411},{"s":"B","d":"2023-03-07","v":401},{"s":"B","d":"2023-03-09","v":404},{"s":"B","d":"2023-03-10","v":416},{"s":"B","d":"2023-03-12","v":412},{"s":"B","d":"2023-03-14","v":413},{"s":"B","d":"2023-03-18","v":412},{"s":"B","d":"2023-03-20","v":416},{"s":"B","d":"2023-03-22","v":420},{"s":"B","d":"2023-03-25","v":416},{"s":"B","d":"2023-03-26","v":409},{"s":"B","d":"2023-03-28","v":407},{"s":"B","d":"2023-03-29","v":420},{"s":"B","d":"2023-03-30","v":416},{"s":"B","d":"2023-04-01","v":413},{"s":"B","d":"2023-04-02","v":416},{"s":"B","d":"2023-04-04","v":416},{"s":"B","d":"2023-04-05","v":409},{"s":"B","d":"2023-04-07","v":401},{"s":"B","d":"2023-04-09","v":391},{"s":"B","d":"2023-04-10","v":384},{"s":"B","d":"2023-04-12","v":370},{"s":"B","d":"2023-04-13","v":361},{"s":"B","d":"2023-04-15","v":352},{"s":"B","d":"2023-04-17","v":347},{"s":"B","d":"2023-04-19","v":345},{"s":"B","d":"2023-04-20","v":342},{"s":"B","d":"2023-04-21","v":330},{"s":"B","d":"2023-04-24","v":316},{"s":"B","d":"2023-04-27","v":302},{"s":"B","d":"2023-04-29","v":290},{"s":"B","d":"2023-05-01","v":281},{"s":"B","d":"2023-05-04","v":276},{"s":"B","d":"2023-05-06","v":282},{"s":"B","d":"2023-05-07","v":277},{"s":"B","d":"2023-05-09","v":269},{"s":"B","d":"2023-05-13","v":255},{"s":"B","d":"2023-05-15","v":240},{"s":"B","d":"2023-05-18","v":221},{"s":"B","d":"2023-05-22","v":196},{"s":"B","d":"2023-05-25","v":165},{"s":"B","d":"2023-05-29","v":141},{"s":"B","d":"2023-06-01","v":115},{"s":"B","d":"2023-06-05","v":84},{"s":"B","d":"2023-06-09","v":58},{"s":"B","d":"2023-06-12","v":33},{"s":"B","d":"2023-06-15","v":15},{"s":"B","d":"2023-07-02","v":15}
 ],
 "sites": [
{"k":"ECS","d":"2023-01-01","v":107},{"k":"ABN","d":"2023-01-01","v":121},{"k":"APH","d":"2023-01-01","v":132},{"k":"PHL","d":"2023-01-01","v":141},
{"k":"ECS","d":"2023-02-01","v":231},{"k":"ABN","d":"2023-02-01","v":263},{"k":"FBN","d":"2023-02-01","v":117},{"k":"CAP","d":"2023-02-01","v":269},{"k":"TMF","d":"2023-02-01","v":208},{"k":"APH","d":"2023-02-01","v":218},
{"k":"ECS","d":"2023-03-01","v":324},{"k":"ABN","d":"2023-03-01","v":299},{"k":"CAP","d":"2023-03-01","v":378},{"k":"PHL","d":"2023-03-01","v":294},{"k":"TMF","d":"2023-03-01","v":281},{"k":"APH","d":"2023-03-01","v":314},
{"k":"ECS","d":"2023-04-01","v":370},{"k":"ABN","d":"2023-04-01","v":404},{"k":"FBN","d":"2023-04-01","v":174},{"k":"CAP","d":"2023-04-01","v":391},{"k":"PHL","d":"2023-04-01","v":319},{"k":"TMF","d":"2023-04-01","v":294},{"k":"APH","d":"2023-04-01","v":355},
{"k":"ECS","d":"2023-05-01","v":203},{"k":"ABN","d":"2023-05-01","v":243},{"k":"CAP","d":"2023-05-01","v":289},{"k":"PHL","d":"2023-05-01","v":148},{"k":"TMF","d":"2023-05-01","v":116},{"k":"APH","d":"2023-05-01","v":249},
{"k":"CAP","d":"2023-06-01","v":111},{"k":"APH","d":"2023-06-01","v":40}
 ],
 "aso": [
{"k":"ASO - Unburned","d":"2023-01-29","v":178},{"k":"ASO - Low Severity","d":"2023-01-29","v":126},{"k":"ASO - Moderate Severity","d":"2023-01-29","v":120},{"k":"ASO - High Severity","d":"2023-01-29","v":132},
{"k":"ASO - Unburned","d":"2023-04-11","v":225},{"k":"ASO - Low Severity","d":"2023-04-11","v":150},{"k":"ASO - Moderate Severity","d":"2023-04-11","v":135},{"k":"ASO - High Severity","d":"2023-04-11","v":140},
{"k":"ASO - Unburned","d":"2023-04-26","v":194},{"k":"ASO - Low Severity","d":"2023-04-26","v":140},{"k":"ASO - Moderate Severity","d":"2023-04-26","v":120},{"k":"ASO - High Severity","d":"2023-04-26","v":111},
{"k":"ASO - Unburned","d":"2023-05-31","v":53},{"k":"ASO - Low Severity","d":"2023-05-31","v":24},{"k":"ASO - Moderate Severity","d":"2023-05-31","v":11},{"k":"ASO - High Severity","d":"2023-05-31","v":5}
 ]
},
"resolve": {"axis": {"x": "independent", "y": "independent"}},
"layer": [
 {
  "data": {"name": "cams"},
  "mark": {"type": "line", "strokeWidth": 2},
  "encoding": {
   "x": {"field": "d", "type": "temporal", "scale": {"type": "utc", "domain": [{"year": 2022, "month": 10, "date": 15, "utc": true}, {"year": 2023, "month": 7, "date": 2, "utc": true}]},
         "axis": {"orient": "bottom", "format": "%b %Y", "tickCount": {"interval": "month", "step": 1}, "tickSize": -10, "labelPadding": 17, "labelFontSize": 19, "title": null, "labelFlush": false, "labelOverlap": false}},
   "y": {"field": "v", "type": "quantitative", "scale": {"domain": [-12, 450], "nice": false, "zero": false},
         "axis": {"orient": "left", "values": [0, 100, 200, 300, 400], "tickSize": -10, "labelPadding": 13, "labelFontSize": 19, "title": "Snow depth [cm]", "titleFontSize": 20, "titleFontWeight": "normal", "titlePadding": 20}},
   "color": {"field": "e", "type": "quantitative", "scale": {"domain": [1800, 2200], "range": ["#00ff80", "#0000ff"], "interpolate": "rgb"},
         "legend": {"title": "Elevation [m]", "orient": "right", "offset": 61, "direction": "vertical", "gradientLength": 651, "gradientThickness": 32, "values": [1800, 1850, 1900, 1950, 2000, 2050, 2100, 2150, 2200], "format": "d", "labelFontSize": 17, "labelOffset": 18, "labelOverlap": false, "titleOrient": "right", "titleAnchor": "middle", "titleFontSize": 18, "titleFontWeight": "normal", "titlePadding": 6, "gradientStrokeColor": "#111", "gradientStrokeWidth": 1, "padding": 0,
           "encode": {"title": {"update": {"angle": {"value": 270}, "baseline": {"value": "top"}}}}}},
   "detail": {"field": "c", "type": "nominal"}
  }
 },
 {
  "data": {"name": "caples"},
  "mark": {"type": "line", "color": "black", "strokeWidth": 2, "strokeDash": [7, 5]},
  "encoding": {
   "x": {"field": "d", "type": "temporal", "axis": {"orient": "bottom", "tickCount": {"interval": "week", "step": 1}, "tickSize": -6, "labels": false, "domain": false, "title": null}},
   "y": {"field": "v", "type": "quantitative", "axis": {"orient": "left", "values": [20, 40, 60, 80, 120, 140, 160, 180, 220, 240, 260, 280, 320, 340, 360, 380, 420, 440], "tickSize": -6, "labels": false, "domain": false, "title": null}},
   "detail": {"field": "s", "type": "nominal"}
  }
 },
 {
  "data": {"name": "aso"},
  "mark": {"type": "rule", "color": "#888888", "strokeDash": [2, 2], "strokeWidth": 1.3},
  "encoding": {
   "x": {"field": "d", "type": "temporal", "axis": null},
   "y": {"aggregate": "max", "field": "v", "type": "quantitative", "axis": null},
   "y2": {"aggregate": "min", "field": "v"}
  }
 },
 {
  "data": {"name": "sites"},
  "mark": {"type": "point", "filled": true, "size": 169, "stroke": "#333333", "strokeWidth": 1, "opacity": 1},
  "encoding": {
   "x": {"field": "d", "type": "temporal", "axis": {"orient": "top", "tickCount": {"interval": "month", "step": 1}, "tickSize": -10, "labels": false, "title": null}},
   "y": {"field": "v", "type": "quantitative", "axis": {"orient": "right", "values": [0, 100, 200, 300, 400], "tickSize": -10, "labels": false, "title": null}},
   "fill": {"field": "k", "type": "nominal",
     "scale": {"domain": ["ECS","ABN","FBN","CAP","PHL","TMF","APH","cameras","Caples Lake","ASO - Unburned","ASO - Low Severity","ASO - Moderate Severity","ASO - High Severity"],
               "range": ["#332288","#88CCEE","#44AA99","#117733","#999933","#DDCC77","#CC6677","#000000","#000000","#006400","#FFFF00","#FFA500","#FF0000"]},
     "legend": {"title": null, "orient": "none", "legendX": 35, "legendY": 23, "direction": "vertical", "gridAlign": "all", "symbolSize": 169, "labelFontSize": 17.5, "labelOffset": 22, "rowPadding": 0.7, "symbolStrokeColor": "#222222", "symbolStrokeWidth": 1, "symbolOpacity": 1, "padding": 0, "labelLimit": 400,
       "encode": {"symbols": {"update": {"strokeWidth": {"signal": "datum.value === 'cameras' || datum.value === 'Caples Lake' ? 2 : 1"}, "stroke": {"value": "#111111"}}}}}},
   "shape": {"field": "k", "type": "nominal",
     "scale": {"domain": ["ECS","ABN","FBN","CAP","PHL","TMF","APH","cameras","Caples Lake","ASO - Unburned","ASO - Low Severity","ASO - Moderate Severity","ASO - High Severity"],
               "range": ["circle","circle","circle","circle","circle","circle","circle","M-2.85,0H2.85","M-2.8,0H-0.9M0,0H1.4",
                 "M0,-1.6L0.3592,-0.4944L1.5217,-0.4944L0.5813,0.1888L0.9405,1.2944L0,0.6112L-0.9405,1.2944L-0.5813,0.1888L-1.5217,-0.4944L-0.3592,-0.4944Z",
                 "M0,-1.6L0.3592,-0.4944L1.5217,-0.4944L0.5813,0.1888L0.9405,1.2944L0,0.6112L-0.9405,1.2944L-0.5813,0.1888L-1.5217,-0.4944L-0.3592,-0.4944Z",
                 "M0,-1.6L0.3592,-0.4944L1.5217,-0.4944L0.5813,0.1888L0.9405,1.2944L0,0.6112L-0.9405,1.2944L-0.5813,0.1888L-1.5217,-0.4944L-0.3592,-0.4944Z",
                 "M0,-1.6L0.3592,-0.4944L1.5217,-0.4944L0.5813,0.1888L0.9405,1.2944L0,0.6112L-0.9405,1.2944L-0.5813,0.1888L-1.5217,-0.4944L-0.3592,-0.4944Z"]},
     "legend": {"title": null, "orient": "none", "legendX": 35, "legendY": 23, "direction": "vertical", "gridAlign": "all", "symbolSize": 169, "labelFontSize": 17.5, "labelOffset": 22, "rowPadding": 0.7, "symbolStrokeColor": "#222222", "symbolStrokeWidth": 1, "symbolOpacity": 1, "padding": 0, "labelLimit": 400,
       "encode": {"symbols": {"update": {"strokeWidth": {"signal": "datum.value === 'cameras' || datum.value === 'Caples Lake' ? 2 : 1"}, "stroke": {"value": "#111111"}}}}}}
  }
 },
 {
  "data": {"name": "aso"},
  "mark": {"type": "point", "filled": true, "size": 204, "stroke": "#111111", "strokeWidth": 1, "opacity": 1},
  "encoding": {
   "x": {"field": "d", "type": "temporal", "axis": {"orient": "top", "tickCount": {"interval": "week", "step": 1}, "tickSize": -6, "labels": false, "domain": false, "title": null}},
   "y": {"field": "v", "type": "quantitative", "axis": {"orient": "right", "values": [20, 40, 60, 80, 120, 140, 160, 180, 220, 240, 260, 280, 320, 340, 360, 380, 420, 440], "tickSize": -6, "labels": false, "domain": false, "title": null}},
   "fill": {"field": "k", "type": "nominal"},
   "shape": {"field": "k", "type": "nominal"}
  }
 }
]
}
